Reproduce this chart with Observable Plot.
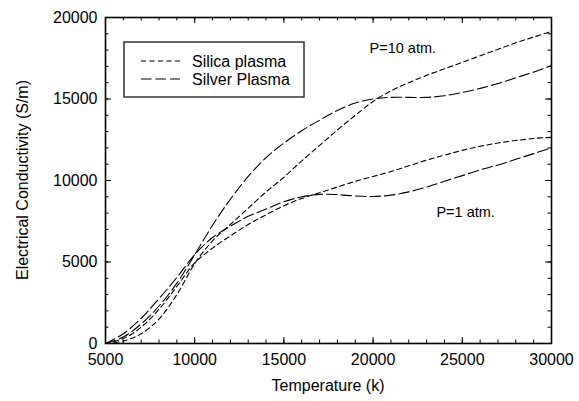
<!DOCTYPE html>
<html>
<head>
<meta charset="utf-8">
<script src="https://cdn.jsdelivr.net/npm/d3@7"></script>
<script src="https://cdn.jsdelivr.net/npm/@observablehq/plot@0.6"></script>
<style>
  html, body { margin: 0; padding: 0; background: #fff; }
  #chart svg { display: block; }
</style>
</head>
<body>
<div id="chart"></div>
<script>
// Temperatures (K)
const temps = [5000, 6000, 7000, 8000, 9000, 10000, 11000, 12000, 13000, 14000, 15000,
  16000, 17000, 18000, 19000, 20000, 21000, 22000, 23000, 24000, 25000,
  26000, 27000, 28000, 29000, 30000];

// Electrical conductivity (S/m)
const silica10 = [0, 150, 600, 1500, 3000, 4900, 6300, 7300, 8300, 9300, 10200,
  11200, 12150, 13100, 14000, 14850, 15500, 16000, 16450, 16850, 17250,
  17650, 18050, 18450, 18800, 19150];
const silver10 = [0, 400, 1200, 2300, 3700, 5450, 7250, 8850, 10250, 11400, 12300,
  13050, 13700, 14300, 14750, 15000, 15100, 15100, 15100, 15200, 15400,
  15650, 15950, 16300, 16650, 17050];
const silica1 = [0, 300, 1000, 2100, 3500, 4950, 5850, 6600, 7300, 7900, 8450,
  8900, 9250, 9600, 9950, 10250, 10550, 10900, 11250, 11550, 11850,
  12100, 12300, 12450, 12580, 12650];
const silver1 = [0, 600, 1550, 2750, 4050, 5450, 6500, 7200, 7800, 8250, 8700,
  9000, 9150, 9130, 9050, 9020, 9100, 9300, 9600, 9950, 10300,
  10650, 10950, 11300, 11650, 12000];

const seriesNames = ["Silica plasma", "Silver Plasma"];
const xMajor = [5000, 10000, 15000, 20000, 25000, 30000];
const xMinor = d3.range(5000, 30001, 1000);
const yMajor = [0, 5000, 10000, 15000, 20000];
const yMinor = d3.range(0, 20001, 1000);
const annotations = [
  {T: 19800, s: 18100, label: "P=10 atm."},
  {T: 23550, s: 8050, label: "P=1 atm."}
];

const dashSilica = "5,3.5";
const dashSilver = "10.5,4";

const rows = [];
function add(vals, material, pressure) {
  temps.forEach((t, i) => rows.push({T: t, s: vals[i], material, pressure}));
}
add(silica10, "Silica plasma", 10);
add(silver10, "Silver Plasma", 10);
add(silica1, "Silica plasma", 1);
add(silver1, "Silver Plasma", 1);

const W = 579, H = 401;
const mL = 105, mR = 28, mT = 17, mB = 58;
const ph = H - mT - mB, pw = W - mL - mR;
const FONT = "'Liberation Sans', Arial, Helvetica, sans-serif";

function curve(material, pressure, dash) {
  return Plot.line(rows.filter(d => d.material === material && d.pressure === pressure), {
    x: "T", y: "s", stroke: "#000", strokeWidth: 1.1, strokeDasharray: dash, curve: "catmull-rom"
  });
}

const plot = Plot.plot({
  width: W, height: H,
  marginLeft: mL, marginRight: mR, marginTop: mT, marginBottom: mB,
  style: {fontFamily: FONT, fontSize: "16px", color: "#000", background: "#fff"},
  x: {domain: [5000, 30000]},
  y: {domain: [0, 20000]},
  marks: [
    Plot.axisX(xMajor, {tickSize: 0, tickPadding: 10, tickFormat: d => String(d), label: null, fontSize: 16}),
    Plot.axisY(yMajor, {tickSize: 0, tickPadding: 8, tickFormat: d => String(d), label: null, fontSize: 16}),
    // inward ticks
    Plot.tickX(xMinor, {x: d => d, insetTop: ph - 3.5, stroke: "#000"}),
    Plot.tickX(xMinor, {x: d => d, insetBottom: ph - 3.5, stroke: "#000"}),
    Plot.tickX(xMajor, {x: d => d, insetTop: ph - 6, stroke: "#000"}),
    Plot.tickX(xMajor, {x: d => d, insetBottom: ph - 6, stroke: "#000"}),
    Plot.tickY(yMinor, {y: d => d, insetRight: pw - 3.5, stroke: "#000"}),
    Plot.tickY(yMinor, {y: d => d, insetLeft: pw - 3.5, stroke: "#000"}),
    Plot.tickY(yMajor, {y: d => d, insetRight: pw - 6, stroke: "#000"}),
    Plot.tickY(yMajor, {y: d => d, insetLeft: pw - 6, stroke: "#000"}),
    curve("Silica plasma", 10, dashSilica),
    curve("Silver Plasma", 10, dashSilver),
    curve("Silica plasma", 1, dashSilica),
    curve("Silver Plasma", 1, dashSilver),
    Plot.text(annotations, {x: "T", y: "s", text: "label", textAnchor: "start", fontSize: 14.5, fill: "#000"}),
    Plot.frame({stroke: "#000", strokeWidth: 1.6})
  ]
});

document.getElementById("chart").appendChild(plot);

// Axis titles and legend
const svg = d3.select(plot);
svg.append("text")
  .attr("x", mL + pw / 2).attr("y", 391)
  .attr("text-anchor", "middle")
  .attr("font-family", FONT).attr("font-size", 16).attr("fill", "#000")
  .text("Temperature (k)");
svg.append("text")
  .attr("transform", `translate(28,${mT + ph / 2}) rotate(-90)`)
  .attr("text-anchor", "middle")
  .attr("font-family", FONT).attr("font-size", 16).attr("fill", "#000")
  .text("Electrical Conductivity (S/m)");

const lg = svg.append("g");
lg.append("rect")
  .attr("x", 124).attr("y", 42).attr("width", 180).attr("height", 55)
  .attr("fill", "#fff").attr("stroke", "#333").attr("stroke-width", 1.5);
const dashes = [dashSilica, dashSilver];
seriesNames.forEach((name, i) => {
  const y = 61 + i * 18;
  lg.append("line")
    .attr("x1", 141).attr("x2", 180).attr("y1", y).attr("y2", y)
    .attr("stroke", "#000").attr("stroke-width", 1.1).attr("stroke-dasharray", dashes[i]);
  lg.append("text")
    .attr("x", 192).attr("y", y + 6)
    .attr("text-anchor", "start")
    .attr("font-family", FONT).attr("font-size", 16).attr("fill", "#000")
    .text(name);
});
</script>
</body>
</html>
